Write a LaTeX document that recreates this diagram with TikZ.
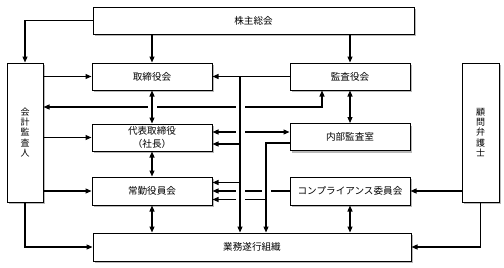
\documentclass[tikz,border=0pt]{standalone}
\usepackage{fontspec}
\newfontfamily\jpfont{Noto Sans CJK JP}
\usetikzlibrary{arrows.meta, calc, shadows}

\begin{document}
\begin{tikzpicture}[
    x=1pt, y=-1pt,
    box/.style={draw, line width=1pt, rectangle, minimum height=27pt,
      minimum width=120pt, align=center, fill=white, inner sep=1pt,
      font=\jpfont\fontsize{9.6}{13}\selectfont,
      drop shadow={shadow xshift=2pt, shadow yshift=-2pt, fill=black!55}},
    tallbox/.style={box, minimum width=36pt, minimum height=139pt,
      font=\jpfont\fontsize{9}{10.2}\selectfont},
    arrow/.style={line width=1.1pt, -{Triangle[length=6pt, width=5pt]}},
    both/.style={line width=1.1pt,
      {Triangle[length=6pt, width=5pt]}-{Triangle[length=6pt, width=5pt]}},
    gap/.style={preaction={draw=white, line width=9pt, -,
      shorten <=2pt, shorten >=7pt}}
]
\useasboundingbox (0,0) rectangle (504,268);

% Top and side bodies
\node[box, minimum width=321pt] (shareholders) at (253.5, 20.5) {株主総会};
\node[tallbox] (accountant) at (25, 132.5) {会\\計\\監\\査\\人};
\node[tallbox, minimum width=37pt] (lawyer) at (480.5, 132.5) {顧\\問\\弁\\護\\士};

% Management side
\node[box] (board) at (152, 76.5) {取締役会};
\node[box] (president) at (152, 137.5) {代表取締役\\（社長）};
\node[box, minimum height=28pt] (executive) at (152, 191) {常勤役員会};

% Audit side
\node[box] (auditors) at (350, 76.5) {監査役会};
\node[box] (internal) at (350, 137) {内部監査室};
\node[box, minimum height=28pt] (compliance) at (350, 191) {コンプライアンス委員会};

% Operations
\node[box, minimum width=318pt, minimum height=28pt] (operations) at (252, 247) {業務遂行組織};

% Route points
\coordinate (trunk) at (240, 76.5);
\coordinate (sub) at (266, 143);
\coordinate (cross) at (322, 107);
\coordinate (presIn) at ([yshift=-6.5pt]president.east);
\coordinate (execIn) at ([yshift=8.5pt]executive.east);
\coordinate (lowIn) at ([yshift=-8.5pt]executive.east);

% Arrows
\draw[arrow] (shareholders.west) -| (accountant.north);
\draw[arrow] (shareholders.south -| board) -- (board);
\draw[arrow] (shareholders.south -| auditors) -- (auditors);
\draw[arrow] (accountant.east |- board) -- (board);
\draw[arrow] (accountant.east |- president) -- (president);
\draw[arrow] (accountant.east |- executive) -- (executive);
\draw[arrow] (accountant.south) |- (operations);
\draw[arrow] (lawyer.west |- compliance) -- (compliance);
\draw[arrow] (lawyer.south) |- (operations);

% Crossing lines (broken where the trunks pass)
\draw[both] (auditors.south -| cross) |- (accountant.east |- cross);
\draw[both] ([yshift=5.5pt]president.east) -- ([yshift=5.5pt]president.east -| internal.west);
\draw[arrow] (compliance) -- (executive);
\draw[arrow, gap] ([yshift=-6pt]internal.west) -| (operations.north -| sub);
\draw[arrow] (lowIn -| sub) -- (lowIn);

% Trunk from the audit board
\draw[arrow, gap] (trunk) -- (trunk |- operations.north);
\draw[arrow] (auditors) -- (board);
\draw[arrow] (presIn -| trunk) -- (presIn);
\draw[arrow] (execIn -| trunk) -- (execIn);

% Vertical links
\draw[both, gap] (board) -- (president);
\draw[both] (president) -- (executive);
\draw[both] (executive) -- (executive |- operations.north);
\draw[both] (auditors) -- (internal);
\draw[both] (compliance) -- (compliance |- operations.north);

\end{tikzpicture}
\end{document}
